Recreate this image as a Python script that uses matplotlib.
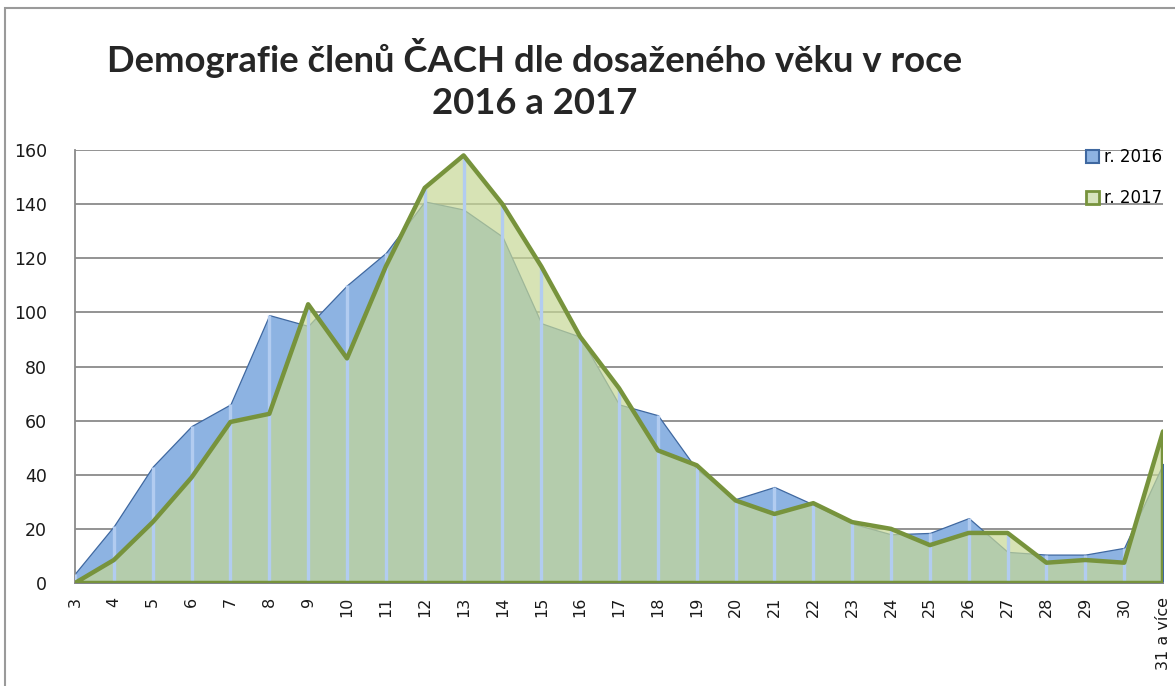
import numpy as np
import matplotlib.pyplot as plt
from matplotlib.patches import Rectangle, Patch

# age categories
ages = ['3', '4', '5', '6', '7', '8', '9', '10', '11', '12', '13', '14', '15', '16',
        '17', '18', '19', '20', '21', '22', '23', '24', '25', '26', '27', '28', '29',
        '30', '31 a více']

# members per age
r2016 = [3.5, 21, 43, 58, 66, 99, 95, 110, 122, 141, 138, 128, 96, 91,
         66, 62, 42, 31, 35.5, 29, 22, 18, 18.5, 24, 11.5, 10.5, 10.5, 13, 44]
r2017 = [0, 8.5, 22.5, 39, 59.5, 62.5, 103, 83, 117, 146, 158, 140, 117, 91,
         72, 49, 43.5, 30.5, 25.5, 29.5, 22.5, 20, 14, 18.5, 18.5, 7.5, 8.5, 7.5, 56]

yticks = [0, 20, 40, 60, 80, 100, 120, 140, 160]

x = np.arange(len(ages))
v16 = np.array(r2016)
v17 = np.array(r2017)

fig = plt.figure(figsize=(11.75, 6.86), dpi=100)
ax = fig.add_axes([75 / 1175, 1 - 583 / 686, 1088 / 1175, 433 / 686])

# outer chart frame
fig.patches.append(Rectangle((5 / 1175, -0.05), 1.2, 1 - 8 / 686 + 0.05,
                             transform=fig.transFigure, fill=False,
                             edgecolor='#9a9a9a', lw=1.5, zorder=0))

ax.set_axisbelow(True)
ax.grid(axis='y', color='#8a8a8a', lw=1.3)

# 2016 area
ax.fill_between(x, 0, v16, facecolor='#8db3e2', edgecolor='#3f68a0', lw=0.9, zorder=2)
# 2017 area (semi transparent)
ax.fill_between(x, 0, v17, facecolor=(198 / 255, 216 / 255, 150 / 255), alpha=0.7,
                edgecolor='none', zorder=3)
ax.fill_between(x, 0, v17, facecolor='none', edgecolor='#77933c', lw=3.2, zorder=5)

# drop lines
ax.vlines(x, 0, np.maximum(v16, v17), colors='#b2ccf0', lw=2.4, zorder=4)

ax.set_xlim(0, len(ages) - 1)
ax.set_ylim(0, 160)
ax.set_yticks(yticks)
ax.set_xticks(x)
ax.set_xticklabels(ages, rotation=90, va='top', ha='center')
ax.tick_params(length=0, labelsize=12, colors='#1a1a1a')
ax.tick_params(axis='y', pad=20, labelsize=12.5)
ax.tick_params(axis='x', pad=10, labelsize=11.5)

for s in ['top', 'right']:
    ax.spines[s].set_visible(False)
ax.spines['left'].set_color('#8a8a8a')
ax.spines['bottom'].set_color('#8a8a8a')
ax.spines['left'].set_linewidth(1.3)
ax.spines['bottom'].set_linewidth(1.3)

fig.text(535 / 1175, 1 - 79 / 686, 'Demografie členů ČACH dle dosaženého věku v roce\n2016 a 2017',
         ha='center', va='center', fontsize=26.3, fontweight='bold', color='#262626',
         family=['Lato', 'DejaVu Sans'], linespacing=1.3)

handles = [Patch(facecolor='#8db3e2', edgecolor='#3f68a0', lw=1.5),
           Patch(facecolor='#d7e4bd', edgecolor='#77933c', lw=2)]
ax.legend(handles, ['r. 2016', 'r. 2017'], loc='upper right',
          bbox_to_anchor=(1.005, 1.02), frameon=False, fontsize=12,
          handlelength=0.8, handleheight=0.8, handletextpad=0.25,
          labelspacing=1.4, borderaxespad=0)

fig.savefig('out.png', dpi=100)
